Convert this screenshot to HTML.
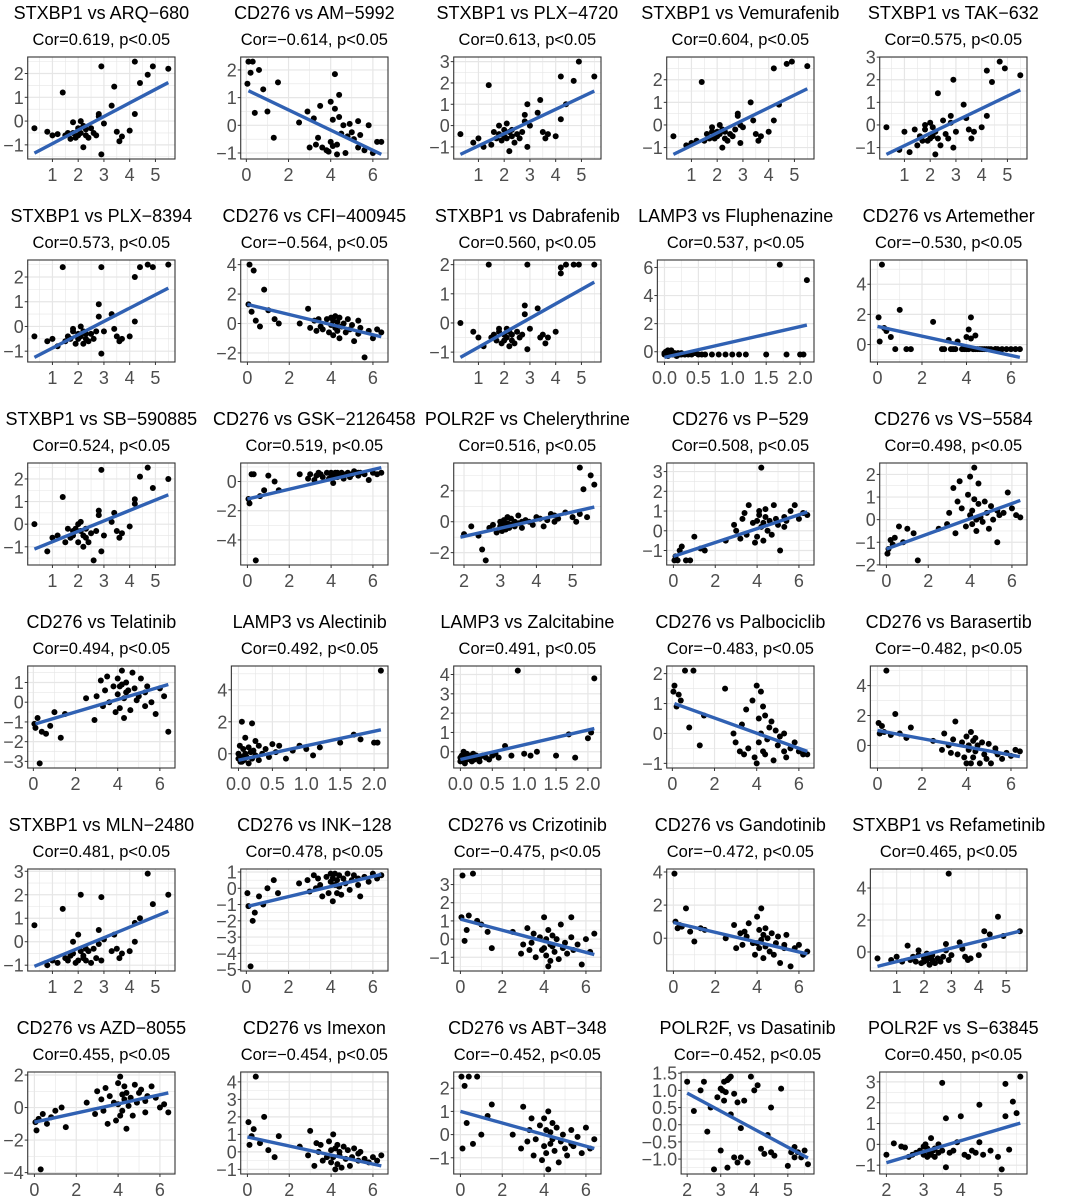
<!DOCTYPE html>
<html><head><meta charset="utf-8"><style>
html,body{margin:0;padding:0;background:#fff;}
svg{display:block;font-family:"Liberation Sans",Arial,sans-serif;}
</style></head><body>
<svg id="fig" width="1065" height="1203" viewBox="0 0 1065 1203" xmlns="http://www.w3.org/2000/svg"></svg>
<script>
// ---- shared x values (gene expression) ----
const xSTX = [0.3,0.8,1.0,1.2,1.4,1.5,1.6,1.7,1.8,1.8,1.9,2.0,2.0,2.1,2.1,2.2,2.2,2.3,2.3,2.4,2.5,2.6,2.7,2.8,2.8,2.9,2.9,3.0,3.3,3.4,3.5,3.6,3.7,4.0,4.2,4.2,4.4,4.7,4.9,5.5];
const xCD = [0.05,0.1,0.2,0.3,0.4,0.6,0.8,1.0,1.3,1.5,2.5,2.9,3.0,3.2,3.3,3.4,3.5,3.6,3.8,3.9,4.0,4.0,4.1,4.1,4.2,4.2,4.3,4.3,4.4,4.4,4.5,4.6,4.7,4.8,4.9,5.0,5.1,5.3,5.3,5.4,5.6,5.8,6.0,6.2,6.4];
const xLAMP = [0.0,0.0,0.02,0.03,0.05,0.05,0.07,0.08,0.1,0.1,0.12,0.15,0.15,0.18,0.2,0.2,0.22,0.25,0.3,0.3,0.35,0.4,0.45,0.5,0.55,0.6,0.7,0.8,0.9,1.0,1.1,1.2,1.5,1.7,1.8,2.0,2.05,2.1,0.05,0.25];
const xPOL = [2.0,2.2,2.4,2.5,2.6,2.7,2.8,2.9,3.0,3.0,3.05,3.1,3.1,3.15,3.2,3.2,3.25,3.3,3.3,3.4,3.4,3.5,3.5,3.6,3.6,3.7,3.8,3.9,4.0,4.1,4.2,4.3,4.4,4.5,4.5,4.6,4.8,5.0,5.1,5.2,5.2,5.3,5.4,5.5,5.6];
// ---- per-panel y values (drug sensitivity) ----
const yARQ680 = [-0.3,-0.45,-0.6,-0.55,1.2,-0.6,-0.5,-0.75,-0.5,-0.05,-0.7,-0.3,-0.6,0,-0.5,-1.1,-0.2,-0.6,-0.35,-0.7,-0.3,-0.5,-0.6,0.3,0.2,-1.4,2.3,-0.1,0.65,1.45,-0.45,-0.85,-0.65,-0.4,2.5,0.3,1.6,1.95,2.3,2.2];
const yAM5992 = [1.5,2.3,1.9,2.3,0.45,2.0,1.3,0.5,-0.45,1.55,0.1,0.5,-0.8,0.25,-0.7,-0.45,0.7,-0.8,-0.9,-0.95,0.85,-0.6,0.2,-0.75,1.85,0.6,-1.05,-0.7,1.1,0.3,-0.3,0.0,-1.0,-0.4,0.05,-0.25,-0.5,0.15,-0.8,-0.35,-0.9,0.0,-1.0,-0.6,-0.6];
const yPLX4720 = [-0.4,-0.8,-0.6,-1.0,1.9,-0.9,-0.3,-0.6,-0.4,0.0,-0.7,-0.2,-0.5,0.1,-0.6,-1.2,-0.3,-0.5,-0.2,-0.8,-0.4,-0.6,-0.3,0.5,0.2,-1.0,1.0,0.0,0.6,1.2,-0.3,-0.6,-0.4,-0.5,2.3,0.3,1.0,2.1,3.0,2.3];
const yVemurafenib = [-0.5,-0.9,-0.8,-0.7,1.9,-0.7,-0.4,-0.6,-0.3,-0.1,-0.6,-0.3,-0.5,0.0,-0.4,-1.0,-0.2,-0.6,-0.3,-0.7,-0.4,-0.5,-0.2,0.4,0.5,-0.8,0.0,-0.1,1.0,0.2,-0.4,-0.7,-0.5,-0.3,2.5,0.2,0.9,2.7,2.8,2.6];
const yTAK632 = [-0.1,-1.1,-0.3,-1.2,-0.2,-0.9,-0.5,-0.7,-0.2,0.0,-0.7,0.1,-0.6,-0.1,-0.5,-1.3,-0.3,-0.6,1.4,-0.9,0.2,-0.4,-0.6,0.4,0.1,-1.0,2.0,-0.3,0.9,0.3,-0.2,-0.6,-0.3,-0.1,2.4,0.4,1.9,2.8,2.5,2.2];
const yPLX8394 = [-0.4,-0.6,-0.5,-0.8,2.4,-0.6,-0.4,-0.5,-0.2,-0.1,-0.7,-0.3,-0.5,0.0,-0.4,-0.7,-0.2,-0.5,-0.3,-0.6,-0.3,-0.5,-0.2,0.9,0.4,-1.1,2.4,-0.2,0.5,-0.1,-0.4,-0.6,-0.5,-0.4,2.0,0.2,2.4,2.5,2.4,2.5];
const yCFI400945 = [1.3,4.0,0.8,3.6,0.2,-0.2,2.3,0.9,0.3,0.0,0.0,1.0,-0.3,0.2,-0.5,0.3,-0.2,-0.4,0.3,-0.6,0.4,-0.1,0.2,-0.8,0.5,-0.3,0.1,-0.5,0.4,-1.0,-0.2,0.0,-0.6,0.3,-0.4,-0.1,-1.2,0.2,-0.7,-0.3,-2.3,-0.5,-1.0,-0.4,-0.6];
const yDabrafenib = [0.0,-0.3,-0.5,-0.8,2.0,-0.5,-0.4,-0.6,-0.3,-0.2,-0.7,-0.4,-0.6,-0.2,-0.5,-0.8,-0.3,-0.6,-0.4,-0.7,-0.3,-0.5,-0.4,0.6,0.3,-0.9,2.0,-0.2,0.5,-0.5,-0.4,-0.7,-0.5,-0.3,1.9,1.7,2.0,2.0,2.0,2.0];
const yFluphenazine = [-0.2,-0.1,0.0,-0.2,0.1,-0.2,-0.1,0.0,-0.2,0.1,-0.2,-0.1,-0.2,-0.3,-0.1,-0.2,-0.2,-0.1,-0.2,-0.2,-0.2,-0.2,-0.1,-0.2,-0.2,-0.2,-0.2,-0.2,-0.2,-0.2,-0.2,-0.2,-0.2,6.2,-0.2,-0.2,-0.2,5.1,-0.3,-0.2];
const yArtemether = [1.8,0.2,5.3,1.1,0.9,0.5,-0.3,2.3,-0.3,-0.3,1.5,-0.3,-0.3,0.3,-0.3,-0.3,-0.3,0.2,-0.3,-0.3,0.5,-0.3,1.0,-0.3,1.8,0.4,-0.3,-0.3,0.6,-0.3,-0.3,-0.3,-0.3,-0.3,-0.3,-0.3,-0.3,-0.3,-0.3,-0.3,-0.3,-0.3,-0.3,-0.3,-0.3];
const ySB590885 = [0.0,-1.2,-0.6,-0.5,1.2,-0.8,-0.2,-0.6,-0.5,-0.3,-0.2,0.0,-0.8,-0.3,0.1,-1.0,-0.5,-0.6,-0.2,-0.8,-0.4,-1.6,-0.3,0.4,0.6,-1.2,2.4,-0.5,0.1,0.5,-0.3,-0.6,-0.4,-0.1,1.1,0.9,2.1,2.5,1.6,2.0];
const yGSK2126458 = [-1.2,-1.5,0.5,0.5,-5.4,-1.0,-0.6,0.4,0.0,-0.6,0.5,0.2,0.5,0.1,0.4,0.6,0.5,0.3,0.6,0.2,0.5,0.6,0.4,-0.1,0.6,0.5,0.3,0.6,0.4,0.5,0.6,0.2,0.5,0.6,0.3,0.5,0.7,0.6,0.4,0.6,0.5,0.1,0.6,0.5,0.6];
const yChelerythrine = [-0.8,-0.3,-0.9,-1.8,-2.5,-0.4,-0.2,-0.7,0.0,-0.3,-0.6,0.1,-0.2,-0.5,0.3,-0.1,-0.4,0.2,-0.2,0.0,-0.3,0.4,-0.1,0.0,-0.4,0.1,0.0,-0.2,0.3,0.2,-0.3,0.1,0.5,0.0,0.4,0.2,0.6,0.3,0.0,3.5,0.5,2.1,0.3,3.0,2.4];
const yP529 = [-1.5,-1.3,-1.5,-1.0,-0.8,-1.5,-1.5,-0.3,-0.9,-1.0,-0.5,0.3,0.0,-0.4,0.6,0.9,-0.2,1.3,0.4,-0.6,0.5,-0.3,1.0,0.8,3.2,0.2,0.4,-0.5,0.7,1.1,0.0,0.5,-0.2,1.3,0.6,0.3,-1.0,0.7,0.2,0.5,1.0,1.3,0.6,0.9,0.8];
const yVS5584 = [-1.5,-1.3,-0.9,-1.1,-0.8,-0.3,-1.0,-0.4,-0.6,-1.8,-0.4,-0.2,0.3,1.4,-0.6,0.8,1.7,0.5,-0.3,1.1,0.2,1.9,0.4,-0.2,2.3,0.9,-0.5,0.0,1.6,0.7,0.1,-0.1,0.8,0.3,-0.4,0.6,0.0,-1.0,0.4,0.2,0.3,1.2,0.5,0.2,0.1];
const yTelatinib = [-1.1,-1.3,-0.8,-3.1,-1.5,-1.6,-1.2,-0.5,-1.8,-0.6,0.2,-0.9,0.3,1.1,-0.2,0.6,1.3,0.0,0.8,-0.5,1.2,0.4,0.8,-0.3,1.6,0.9,0.2,-0.8,1.0,0.5,0.6,-0.4,1.5,0.7,0.1,0.3,1.2,-0.2,0.5,0.8,0.0,-0.6,0.7,0.3,-1.5];
const yAlectinib = [-0.3,0.0,0.5,-0.5,2.0,-0.2,0.3,-0.4,1.0,0.0,-0.2,0.4,-0.6,0.1,1.9,-0.3,0.2,-0.1,0.5,-0.4,0.0,0.3,-0.2,0.6,0.1,0.5,-0.3,0.2,0.5,0.3,-0.1,0.4,0.7,1.2,0.9,0.7,0.7,5.2,-0.5,0.8];
const yZalcitabine = [-0.3,-0.5,-0.2,-0.4,0.0,-0.3,-0.6,-0.2,-0.4,-0.1,-0.3,-0.4,-0.2,-0.5,-0.3,-0.1,-0.4,-0.2,-0.3,-0.5,-0.2,-0.3,-0.4,-0.2,-0.1,-0.3,0.3,-0.2,4.2,-0.1,-0.2,0.0,-0.2,0.9,-0.3,0.7,1.0,3.8,-0.4,-0.2];
const yPalbociclib = [1.4,1.6,0.9,1.3,1.1,2.1,0.2,2.1,-0.4,0.6,1.5,0.0,-0.3,-0.6,0.3,-0.7,0.8,-0.5,1.1,-0.8,1.6,-1.0,0.5,-0.3,1.4,0.0,0.9,-0.6,0.6,-0.7,-0.2,0.2,0.4,-0.9,0.1,-0.4,-0.1,-0.6,0.0,-0.8,-0.5,-0.3,-0.6,-0.7,-0.7];
const yBarasertib = [1.5,0.8,1.3,0.9,5.0,0.7,2.1,0.8,0.5,1.2,0.3,-0.3,0.8,0.0,-0.5,0.4,1.6,-0.6,0.2,-0.8,0.6,-1.2,0.0,-0.3,0.9,-1.2,0.3,-0.8,0.5,-0.4,0.0,-1.2,0.2,-0.6,-0.9,0.1,-1.2,-0.4,-0.2,-0.6,-0.9,-0.5,-0.7,-0.3,-0.4];
const yMLN2480 = [0.7,-1.0,-0.8,-0.9,1.4,-0.7,-0.8,-0.6,-0.5,0.0,-0.9,0.3,-0.8,-0.4,2.0,-0.6,-0.7,-0.3,-0.8,-0.4,-0.9,-0.3,-0.7,0.5,-0.1,-0.8,1.9,0.1,-0.4,0.3,-0.3,-0.7,-0.5,-0.4,0.8,0.0,1.0,2.9,1.6,2.0];
const yINK128 = [-0.3,-1.1,-4.8,-2.0,-1.5,-0.5,-1.0,0.0,0.5,-0.3,0.3,0.5,-0.2,0.8,0.0,0.6,0.2,-0.5,0.7,-0.3,0.9,0.4,-0.8,0.6,0.2,0.9,-0.3,0.5,0.8,0.1,-0.4,0.6,0.3,0.9,-0.1,0.5,0.8,0.2,0.6,-0.5,0.7,0.4,0.9,0.6,0.8];
const yCrizotinib = [1.2,3.5,-0.1,0.5,1.3,3.6,1.0,0.8,0.4,-0.5,0.4,-0.8,-0.3,0.6,-0.6,-0.2,0.3,-1.0,0.1,-0.6,1.2,-0.5,0.0,-0.9,-1.5,0.5,-0.3,-1.2,0.2,-0.4,-0.7,0.0,-1.1,0.8,-0.5,-0.2,-0.8,0.1,1.2,-0.6,-0.3,-1.4,0.0,-0.7,0.3];
const yGandotinib = [3.9,1.0,0.6,0.8,0.7,1.8,0.4,-0.2,0.6,0.5,0.0,0.8,-0.6,0.3,-0.4,0.4,0.1,0.9,-0.3,-1.0,1.3,-0.3,0.5,-0.6,1.8,-0.1,0.2,-1.2,0.6,-0.5,0.0,-0.8,0.3,-1.0,-0.3,0.1,-1.5,-0.6,-0.4,0.2,-1.7,-0.6,-0.4,-1.0,-0.8];
const yRefametinib = [-0.4,-0.5,-0.3,-0.6,0.4,-0.5,-0.3,-0.6,-0.2,0.1,-0.7,-0.4,-0.6,-0.1,-0.5,-0.8,-0.3,-0.5,-0.2,-0.7,-0.4,-0.6,-0.3,0.5,0.1,-0.5,4.9,-0.2,0.6,0.2,-0.3,-0.5,-0.4,-0.2,1.3,0.4,1.1,2.2,1.0,1.3];
const yAZD8055 = [-0.9,-1.4,-0.7,-3.8,-0.4,-1.0,-0.6,-0.2,0.0,-1.2,0.3,-0.4,1.0,0.5,-0.2,1.2,-1.0,0.7,0.3,-0.8,1.5,0.2,-0.5,1.9,0.8,-0.2,1.3,0.5,-1.3,0.9,0.1,0.6,-0.5,1.4,0.3,0.9,1.1,0.4,-0.3,0.7,1.3,0.6,0.0,0.2,-0.3];
const yImexon = [1.7,0.4,0.9,1.3,4.3,0.5,2.0,0.1,-0.3,0.9,0.3,-0.2,1.2,-0.8,0.5,0.0,0.4,-0.5,-0.3,0.6,0.1,-0.6,1.0,-0.3,0.2,-1.0,0.4,-0.7,0.0,-0.2,-0.9,0.3,-0.4,0.1,-0.8,-0.3,0.2,-0.5,-0.1,0.0,-0.4,-0.6,-0.3,-0.5,-0.2];
const yABT348 = [2.5,-0.6,2.1,0.5,2.5,-0.4,2.5,0.0,0.8,1.3,0.0,-0.6,1.2,-0.3,0.2,0.7,-0.9,-0.2,0.4,-1.1,0.7,-0.5,0.2,-0.8,1.0,-1.5,0.1,-0.4,0.5,-0.2,-0.7,0.3,-1.2,-0.3,0.0,-0.6,-0.9,0.2,-0.4,-0.5,-0.1,-0.8,0.3,-0.6,-0.2];
const yDasatinib = [1.25,0.4,1.0,1.25,-0.2,0.5,-1.3,0.8,1.05,-0.75,1.0,1.25,0.7,0.95,1.3,-1.25,1.35,0.3,1.4,-0.95,0.9,0.65,-1.1,-0.1,-0.95,0.7,-1.1,1.4,1.0,1.15,-0.7,-0.85,-0.3,0.5,-0.8,-0.9,1.05,-1.2,-0.8,-0.65,-0.95,-0.8,-0.95,-0.75,-1.15];
const yS63845 = [-0.5,0.05,-0.1,-0.15,-0.6,-0.5,-0.4,-0.3,-0.1,-0.5,0.0,-0.6,-0.2,-0.4,0.3,-0.5,-0.3,-0.2,-0.6,0.0,-0.4,2.95,-0.3,1.25,-1.1,-0.4,-0.3,0.1,1.35,-0.5,-0.6,-0.3,-0.4,1.9,0.1,-0.5,-0.3,-0.6,-1.2,2.9,1.35,-0.25,2.05,1.5,3.25];

// ---- titles, correlations ----
const titles = ["STXBP1 vs ARQ\u2212680","CD276 vs AM\u22125992","STXBP1 vs PLX\u22124720","STXBP1 vs Vemurafenib","STXBP1 vs TAK\u2212632",
"STXBP1 vs PLX\u22128394","CD276 vs CFI\u2212400945","STXBP1 vs Dabrafenib","LAMP3 vs Fluphenazine","CD276 vs Artemether",
"STXBP1 vs SB\u2212590885","CD276 vs GSK\u22122126458","POLR2F vs Chelerythrine","CD276 vs P\u2212529","CD276 vs VS\u22125584",
"CD276 vs Telatinib","LAMP3 vs Alectinib","LAMP3 vs Zalcitabine","CD276 vs Palbociclib","CD276 vs Barasertib",
"STXBP1 vs MLN\u22122480","CD276 vs INK\u2212128","CD276 vs Crizotinib","CD276 vs Gandotinib","STXBP1 vs Refametinib",
"CD276 vs AZD\u22128055","CD276 vs Imexon","CD276 vs ABT\u2212348","POLR2F, vs Dasatinib","POLR2F vs S\u221263845"];
const cors = ["0.619","\u22120.614","0.613","0.604","0.575","0.573","\u22120.564","0.560","0.537","\u22120.530",
"0.524","0.519","0.516","0.508","0.498","0.494","0.492","0.491","\u22120.483","\u22120.482",
"0.481","0.478","\u22120.475","\u22120.472","0.465","0.455","\u22120.454","\u22120.452","\u22120.452","0.450"];

// ---- per-panel fitted line ends [x0,y0,x1,y1] ----
const fitLines = [[0.3,-1.35,5.5,1.62],[0.1,1.25,6.4,-1.05],[0.3,-1.35,5.5,1.62],[0.3,-1.3,5.5,1.6],[0.3,-1.3,5.5,1.55],
[0.3,-1.25,5.5,1.55],[0,1.3,6.4,-0.9],[0.3,-1.18,5.5,1.4],[0,-0.4,2.1,1.9],[0,1.2,6.4,-0.85],
[0.3,-1.1,5.5,1.3],[0,-1.2,6.4,0.95],[1.9,-1.0,5.6,0.95],[0,-1.3,6.4,0.95],[0,-1.3,6.4,0.85],
[0.1,-1.1,6.4,0.9],[0,-0.4,2.1,1.5],[0,-0.4,2.1,1.2],[0.1,1.0,6.4,-0.6],[0,1.0,6.4,-0.75],
[0.3,-1.05,5.5,1.3],[0.1,-1.1,6.4,0.85],[0,1.1,6.4,-0.85],[0,0.95,6.4,-0.95],[0.3,-0.9,5.5,1.3],
[0,-0.9,6.4,0.9],[0,0.85,6.4,-0.8],[0,1.0,6.4,-0.6],[2.0,0.92,5.6,-0.97],[2.0,-0.88,5.6,1.02]];

// ---- axis ticks ----
const tk15 = [1,2,3,4,5], tk06 = [0,2,4,6], tkL = [0,0.5,1,1.5,2], tk25 = [2,3,4,5];
const panelX = [xSTX,xCD,xSTX,xSTX,xSTX, xSTX,xCD,xSTX,xLAMP,xCD, xSTX,xCD,xPOL,xCD,xCD, xCD,xLAMP,xLAMP,xCD,xCD, xSTX,xCD,xCD,xCD,xSTX, xCD,xCD,xCD,xPOL,xPOL];
const panelY = [yARQ680,yAM5992,yPLX4720,yVemurafenib,yTAK632, yPLX8394,yCFI400945,yDabrafenib,yFluphenazine,yArtemether,
ySB590885,yGSK2126458,yChelerythrine,yP529,yVS5584, yTelatinib,yAlectinib,yZalcitabine,yPalbociclib,yBarasertib,
yMLN2480,yINK128,yCrizotinib,yGandotinib,yRefametinib, yAZD8055,yImexon,yABT348,yDasatinib,yS63845];
const yTicks = [[-1,0,1,2,3],[-1,0,1,2],[-1,0,1,2,3],[-1,0,1,2],[-1,0,1,2,3],
[-1,0,1,2],[-2,0,2,4],[-1,0,1,2],[0,2,4,6],[0,2,4],
[-1,0,1,2],[-4,-2,0],[-2,0,2],[-1,0,1,2,3],[-2,-1,0,1,2],
[-3,-2,-1,0,1],[0,2,4],[-1,0,1,2,3,4],[-1,0,1,2],[0,2,4],
[-1,0,1,2,3],[-5,-4,-3,-2,-1,0,1],[-1,0,1,2,3],[-2,0,2,4],[0,2,4],
[-4,-2,0,2],[-1,0,1,2,3,4],[-1,0,1,2],[-1,-0.5,0,0.5,1,1.5],[-1,0,1,2,3]];

function extent(a){let lo=Infinity,hi=-Infinity;for(const v of a){if(v<lo)lo=v;if(v>hi)hi=v;}return [lo,hi];}
function fmt(v,dec){let s=dec?Math.abs(v).toFixed(1):String(Math.abs(v));return (v<0?"\u2212":"")+s;}
function textW(s,fs){let w=0;for(const ch of s){w+= ch==='.'?0.28*fs:0.52*fs;}return w;}
const NS="http://www.w3.org/2000/svg";
const svg=document.getElementById('fig');
function mk(tag,attrs,parent){const e=document.createElementNS(NS,tag);for(const k in attrs)e.setAttribute(k,attrs[k]);parent.appendChild(e);return e;}

for(let i=0;i<30;i++){
  const c=i%5, r=Math.floor(i/5);
  const cx=c*213, cy=r*203;
  const xs=panelX[i], ys=panelY[i], fit=fitLines[i];
  const g=mk('g',{},svg);
  
  
  let xt, xdec=false;
  if(xs===xSTX) xt=tk15; else if(xs===xCD) xt=tk06; else if(xs===xLAMP){xt=tkL;xdec=true;} else xt=tk25;
  const yt=yTicks[i]; const ydec=yt.some(v=>v%1!==0);
  const fs=18;
  const ylabels=yt.map(v=>fmt(v,ydec));
  const lw=Math.max(...ylabels.map(s=>textW(s,fs)));
  const L=cx+Math.max(lw,9)+9, R=cx+175, T=cy+57, B=cy+159;
  const ex=extent(xs.concat([fit[0],fit[2]])), ey=extent(ys.concat([fit[1],fit[3]]));
  const px=(ex[1]-ex[0])*0.05, py=(ey[1]-ey[0])*0.05;
  const x0=ex[0]-px, x1=ex[1]+px, y0=ey[0]-py, y1=ey[1]+py;
  const sx=v=>L+(v-x0)/(x1-x0)*(R-L);
  const sy=v=>B-(v-y0)/(y1-y0)*(B-T);
  const bg=mk('rect',{x:L,y:T,width:R-L,height:B-T,fill:'#fff'},g);
  
  
  const xstep=xt[1]-xt[0], ystep=yt[1]-yt[0];
  for(let v=xt[0]-xstep/2; v<=x1; v+=xstep/2){ if(v<x0) continue;
    const major=Math.abs(((v-xt[0])/xstep)%1)<1e-6;
    mk('line',{x1:sx(v),x2:sx(v),y1:T,y2:B,stroke:'#e6e6e6','stroke-width':major?1.2:0.6},g);}
  for(let v=yt[0]-ystep/2; v<=y1; v+=ystep/2){ if(v<y0) continue;
    const major=Math.abs(((v-yt[0])/ystep)%1)<1e-6;
    mk('line',{x1:L,x2:R,y1:sy(v),y2:sy(v),stroke:'#e6e6e6','stroke-width':major?1.2:0.6},g);}
  const n=Math.min(xs.length,ys.length);
  for(let k=0;k<n;k++){
    const p=mk('circle',{cx:sx(xs[k]),cy:sy(ys[k]),r:3,fill:'#000'},g);
    
    
  }
  const ln=mk('line',{x1:sx(fit[0]),y1:sy(fit[1]),x2:sx(fit[2]),y2:sy(fit[3]),stroke:'#3061b3','stroke-width':3.4,'stroke-linecap':'butt'},g);
  
  
  const bd=mk('rect',{x:L,y:T,width:R-L,height:B-T,fill:'none',stroke:'#333','stroke-width':1.1},g);
  
  
  xt.forEach(v=>{ if(v<x0||v>x1) return;
    mk('line',{x1:sx(v),x2:sx(v),y1:B,y2:B+3,stroke:'#333'},g);
    const t=mk('text',{x:sx(v),y:B+22,'text-anchor':'middle','font-size':fs,fill:'#4d4d4d'},g);
    t.textContent=fmt(v,xdec);
    
    
  });
  yt.forEach((v,j)=>{ if(v<y0||v>y1) return;
    mk('line',{x1:L-3,x2:L,y1:sy(v),y2:sy(v),stroke:'#333'},g);
    const t=mk('text',{x:L-4,y:sy(v)+6.5,'text-anchor':'end','font-size':fs,fill:'#4d4d4d'},g);
    t.textContent=ylabels[j];
    
    
  });
  const mid=(L+R)/2;
  const tt=mk('text',{x:mid,y:cy+19,'text-anchor':'middle','font-size':18,fill:'#000'},g);
  tt.textContent=titles[i];
  
  
  const st=mk('text',{x:mid,y:cy+45,'text-anchor':'middle','font-size':16.5,fill:'#000'},g);
  st.textContent='Cor='+cors[i]+', p<0.05';
  
  
}
</script>
</body></html>
